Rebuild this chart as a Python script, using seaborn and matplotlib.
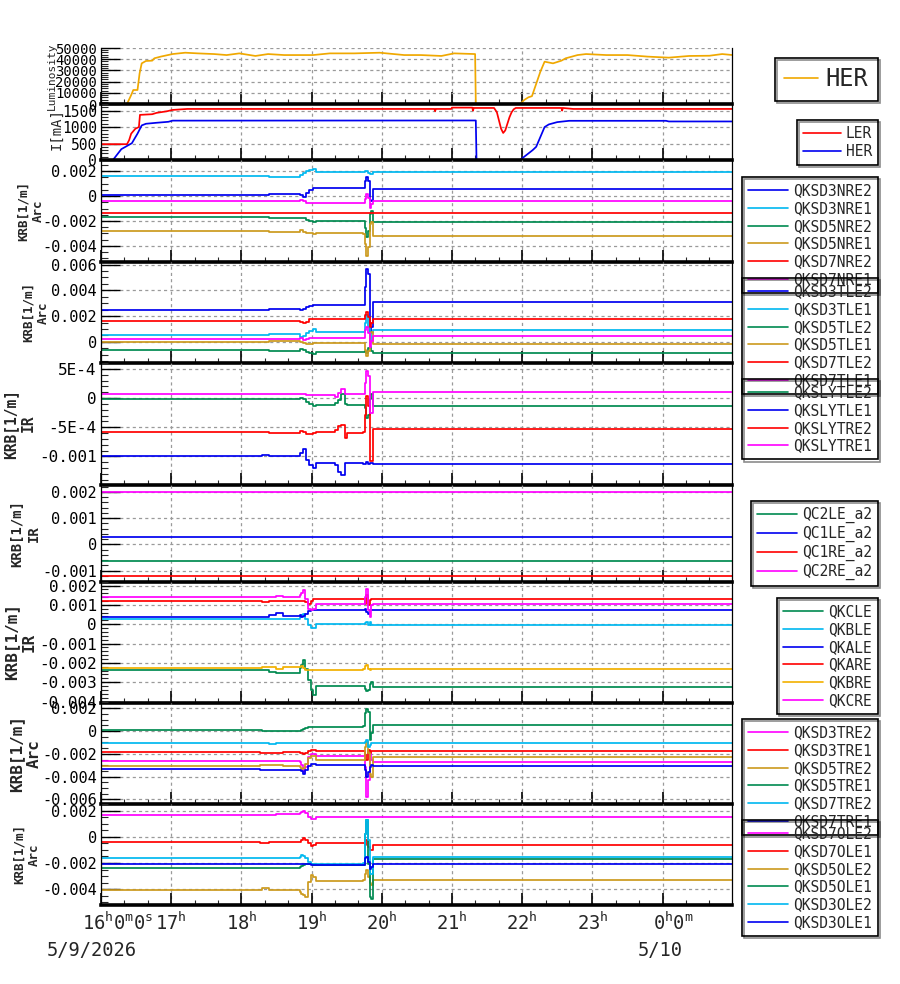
import numpy as np
import pandas as pd
import matplotlib
matplotlib.use('Agg')
import matplotlib.pyplot as plt
import matplotlib.dates as mdates
import matplotlib.patheffects as pe
from matplotlib.ticker import MultipleLocator, AutoMinorLocator, FuncFormatter
from matplotlib.transforms import ScaledTranslation
import seaborn as sns

sns.set_style('white')
plt.rcParams['font.family'] = ['DejaVu Sans Mono']
plt.rcParams['mathtext.fontset'] = 'custom'
plt.rcParams['mathtext.rm'] = 'DejaVu Sans Mono'
plt.rcParams['mathtext.default'] = 'rm'

start = pd.Timestamp('2026-05-09 16:00')
end_h = 8.99

# ---- beam (times in hours after 16:00) ----
lum_t = [0, 0.37, 0.43, 0.46, 0.52, 0.55, 0.58, 0.64, 0.73, 0.76,
         0.85, 1.02, 1.20, 1.38, 1.61, 1.79, 1.97, 2.20, 2.38, 2.61,
         3.02, 3.26, 3.61, 3.97, 4.32, 4.56, 4.85, 5.03, 5.33, 5.34,
         5.97, 6.03, 6.09, 6.14, 6.17, 6.26, 6.32, 6.44, 6.56, 6.62,
         6.79, 6.91, 7.20, 7.50, 7.79, 8.09, 8.38, 8.67, 8.85, 9.0]
lum_her = [0, 0, 8000, 12500, 12500, 27400, 36300, 38400, 38700, 40800,
           42300, 44600, 45800, 45200, 44600, 43700, 45200, 42900, 44600, 43700,
           43700, 45200, 45200, 45800, 43700, 43700, 42900, 45200, 44600, 0,
           0, 3600, 6000, 7000, 12500, 28900, 37800, 36300, 38700, 40800,
           43700, 44600, 43700, 43700, 42300, 41400, 42900, 43100, 44600, 43700]

ler_t = [0, 0.37, 0.40, 0.43, 0.49, 0.54, 0.555, 0.73, 0.79, 0.94, 1.02, 1.23,
         4.75, 4.76, 4.77, 4.99, 5.00, 5.29, 5.30, 5.31, 5.60,
         5.64, 5.67, 5.70, 5.73, 5.76, 5.79, 5.82, 5.85, 5.88, 5.91,
         6.56, 6.57, 6.58, 6.73, 9.0]
ler_ma = [480, 480, 600, 800, 950, 1000, 1370, 1390, 1430, 1480, 1520, 1550,
          1550, 1480, 1550, 1550, 1590, 1590, 1500, 1580, 1580,
          1450, 1200, 950, 820, 900, 1100, 1300, 1450, 1540, 1580,
          1580, 1500, 1580, 1550, 1550]

her_t = [0, 0.17, 0.29, 0.44, 0.52, 0.58, 0.64, 0.79, 0.96, 1.02, 5.34, 5.35,
         5.97, 6.03, 6.15, 6.20, 6.26, 6.32, 6.38, 6.50, 6.67, 8.05, 8.09, 9.0]
her_ma = [0, 0, 330, 510, 800, 1050, 1100, 1130, 1160, 1195, 1200, 0,
          0, 100, 300, 400, 700, 1000, 1080, 1150, 1190, 1190, 1170, 1170]

# ---- magnet strengths, step data (times in hours after 16:00) ----
knots_arc = [0, 2.40, 2.83, 2.88, 2.92, 2.97, 3.02, 3.07, 3.73, 3.76, 3.78, 3.80, 3.83, 3.85, 3.88]

arc_nre = {  # 1e-3 /m
    'QKSD3NRE2': [0.05, 0.13, 0.05, -0.08, 0.27, 0.45, 0.61, 0.67, 0.67, 1.20, 1.52, 1.20, -0.35, -0.40, 0.53],
    'QKSD3NRE1': [1.60, 1.57, 1.73, 1.87, 2.00, 2.13, 2.21, 1.95, 1.95, 2.05, 2.05, 1.87, 1.79, 1.79, 1.97],
    'QKSD5NRE2': [-1.71, -1.79, -1.73, -1.79, -1.95, -2.00, -2.05, -2.00, -2.00, -2.53, -3.33, -2.80, -1.47, -1.20, -2.08],
    'QKSD5NRE1': [-2.83, -2.88, -2.75, -2.85, -2.96, -2.99, -3.01, -2.96, -3.01, -3.87, -4.80, -4.13, -2.27, -2.08, -3.23],
    'QKSD7NRE2': [-1.39] * 15,
    'QKSD7NRE1': [-0.43, -0.43, -0.35, -0.40, -0.53, -0.56, -0.59, -0.59, -0.59, -0.27, 0.13, -0.13, -0.93, -0.67, -0.43],
}

arc_tle = {  # 1e-3 /m
    'QKSD3TLE2': [2.51, 2.56, 2.51, 2.56, 2.72, 2.79, 2.87, 2.90, 2.90, 4.26, 5.67, 5.28, 0.67, 1.18, 3.13],
    'QKSD3TLE1': [0.51, 0.62, 0.41, 0.46, 0.67, 0.87, 0.97, 0.79, 0.79, 1.44, 2.08, 1.18, 0.03, 0.67, 0.95],
    'QKSD5TLE2': [-0.64, -0.69, -0.54, -0.62, -0.77, -0.87, -0.92, -0.82, -0.82, -0.74, -0.87, -0.49, -0.36, -0.74, -0.87],
    'QKSD5TLE1': [0.00, 0.03, 0.00, -0.05, -0.15, -0.15, -0.10, -0.05, -0.05, -0.62, -1.13, -0.74, 0.67, 0.79, -0.18],
    'QKSD7TLE2': [1.59, 1.59, 1.54, 1.44, 1.56, 1.74, 1.77, 1.74, 1.74, 2.08, 2.33, 1.95, 1.18, 1.44, 1.79],
    'QKSD7TLE1': [0.21, 0.23, 0.28, 0.15, 0.23, 0.28, 0.31, 0.28, 0.28, 0.92, 1.18, 0.67, -0.36, 0.03, 0.46],
}

knots_ly = [0, 2.30, 2.40, 2.83, 2.88, 2.92, 2.97, 3.02, 3.07, 3.33, 3.38, 3.42, 3.47, 3.50,
            3.73, 3.76, 3.78, 3.80, 3.83, 3.85, 3.88]

ir_ly = {  # 1e-4 /m
    'QKSLYTLE2': [-0.11, -0.11, -0.11, 0.06, -0.11, -0.69, -1.09, -1.38, -1.15, -0.80, -0.34, 0.63, -1.09, -1.15,
                  -1.15, -1.67, -3.39, -2.82, -0.23, 0.63, -1.38],
    'QKSLYTLE1': [-9.89, -9.71, -9.89, -9.43, -8.74, -10.57, -11.44, -12.01, -11.15, -11.44, -12.59, -13.16, -11.15, -11.15,
                  -11.26, -11.26, -11.03, -11.26, -11.15, -11.15, -11.26],
    'QKSLYTRE2': [-5.80, -5.80, -5.98, -5.69, -5.86, -6.09, -6.09, -5.98, -5.86, -5.40, -4.83, -4.54, -6.84, -5.98,
                  -5.86, -2.82, 0.34, -1.38, -10.86, -10.86, -5.29],
    'QKSLYTRE1': [0.75, 0.75, 0.75, 0.75, 0.63, 0.46, 0.46, 0.46, 0.46, 0.23, 0.92, 1.49, 0.63, 0.63,
                  0.63, 2.64, 4.66, 3.79, -2.53, -2.53, 1.09],
}

knots_qc = [0]
ir_qc = {  # 1e-3 /m
    'QC2LE_a2': [-0.64],
    'QC1LE_a2': [0.27],
    'QC1RE_a2': [-1.19],
    'QC2RE_a2': [2.00],
}

knots_k = [0, 2.26, 2.30, 2.40, 2.50, 2.59, 2.83, 2.85, 2.88, 2.90, 2.95, 2.99, 3.02, 3.07,
           3.73, 3.76, 3.78, 3.80, 3.83, 3.85, 3.88]

ir_qk = {  # 1e-3 /m
    'QKCLE': [-2.35, -2.35, -2.38, -2.47, -2.52, -2.52, -2.25, -2.12, -1.87, -2.30, -2.90, -3.42, -3.68, -3.21,
              -3.21, -3.33, -3.45, -3.42, -3.07, -2.99, -3.25],
    'QKBLE': [0.29, 0.29, 0.29, 0.29, 0.29, 0.29, 0.35, 0.47, 0.55, 0.29, -0.05, -0.19, -0.19, 0.03,
              0.03, 0.07, 0.12, -0.05, 0.09, -0.02, -0.02],
    'QKALE': [0.38, 0.38, 0.35, 0.47, 0.59, 0.41, 0.47, 0.38, 0.41, 0.55, 0.69, 0.76, 0.76, 0.76,
              0.73, 0.81, 0.64, 0.55, 0.73, 0.76, 0.76],
    'QKARE': [1.21, 1.21, 1.16, 1.21, 1.21, 1.21, 1.21, 1.21, 1.19, 1.16, 1.07, 1.21, 1.33, 1.33,
              1.33, 1.07, 1.50, 0.98, 1.24, 1.33, 1.33],
    'QKBRE': [-2.26, -2.26, -2.21, -2.21, -2.30, -2.21, -2.21, -2.18, -2.25, -2.35, -2.38, -2.38, -2.35, -2.35,
              -2.30, -2.18, -2.12, -2.30, -2.38, -2.30, -2.30],
    'QKCRE': [1.42, 1.42, 1.42, 1.42, 1.47, 1.42, 1.50, 1.62, 1.76, 1.33, 0.81, 0.73, 0.81, 1.04,
              1.04, 1.42, 1.80, 0.73, 0.38, 0.98, 1.04],
}

arc_tre = {  # 1e-3 /m
    'QKSD3TRE2': [-2.64, -2.64, -2.64, -2.64, -2.64, -2.64, -2.70, -3.00, -3.58, -3.14, -2.26, -2.03, -2.03, -2.17,
                  -2.17, -3.14, -5.79, -4.32, -1.97, -2.56, -2.70],
    'QKSD3TRE1': [-1.88, -1.97, -1.97, -1.91, -1.91, -1.88, -1.91, -1.97, -2.03, -1.91, -1.73, -1.67, -1.67, -1.73,
                  -1.73, -2.11, -2.56, -1.67, -1.97, -1.79, -1.79],
    'QKSD5TRE2': [-3.08, -3.00, -3.00, -3.02, -3.02, -3.08, -3.14, -3.29, -3.20, -2.85, -2.41, -2.17, -2.17, -2.56,
                  -2.56, -1.38, -0.94, -1.97, -3.73, -4.02, -2.32],
    'QKSD5TRE1': [0.09, 0.09, 0.03, 0.03, 0.03, 0.03, 0.03, 0.09, 0.15, 0.23, 0.32, 0.38, 0.38, 0.38,
                  0.44, 1.56, 1.91, 1.70, -0.79, -0.21, 0.50],
    'QKSD7TRE2': [-1.09, -1.09, -1.09, -1.17, -1.09, -1.09, -1.09, -1.09, -1.09, -1.09, -1.09, -1.09, -1.09, -1.09,
                  -1.09, -0.94, -0.79, -1.38, -1.23, -1.09, -1.09],
    'QKSD7TRE1': [-3.35, -3.38, -3.38, -3.38, -3.38, -3.38, -3.38, -3.49, -3.73, -3.44, -3.08, -2.85, -2.85, -3.00,
                  -3.00, -3.44, -4.02, -3.58, -3.14, -3.00, -3.11],
}

arc_ole = {  # 1e-3 /m
    'QKSD7OLE2': [1.65, 1.65, 1.65, 1.65, 1.70, 1.70, 1.78, 1.86, 1.96, 1.78, 1.53, 1.37, 1.32, 1.48,
                  1.48, 1.48, 1.48, 1.48, 1.48, 1.48, 1.48],
    'QKSD7OLE1': [-0.36, -0.46, -0.46, -0.36, -0.36, -0.36, -0.36, -0.25, -0.13, -0.25, -0.51, -0.69, -0.64, -0.51,
                  -0.51, -0.64, -0.25, -0.76, -0.97, -0.97, -0.59],
    'QKSD5OLE2': [-4.02, -4.02, -3.94, -4.02, -4.07, -4.07, -4.20, -4.33, -4.45, -4.58, -3.44, -2.93, -3.05, -3.38,
                  -3.31, -2.80, -2.54, -3.05, -3.56, -3.69, -3.26],
    'QKSD5OLE1': [-2.37, -2.37, -2.37, -2.37, -2.37, -2.37, -2.29, -2.24, -2.16, -2.09, -2.04, -2.09, -2.16, -2.16,
                  -2.16, 0.25, 1.27, -2.04, -4.58, -4.71, -1.73],
    'QKSD3OLE2': [-1.58, -1.58, -1.58, -1.58, -1.58, -1.58, -1.53, -1.42, -1.48, -1.65, -1.91, -2.09, -2.04, -2.04,
                  -1.98, 0.25, 1.27, -0.25, -2.80, -2.80, -1.53],
    'QKSD3OLE1': [-2.09, -2.09, -2.09, -2.09, -2.09, -2.09, -2.09, -2.09, -2.04, -2.04, -2.09, -2.16, -2.16, -2.16,
                  -2.16, -1.65, -1.53, -1.91, -2.42, -2.29, -2.04],
}

BLUE, SKY, GREEN, GOLD = '#0000f0', '#00b8f0', '#008a50', '#cc9a1e'
RED, MAG, ORANGE = '#ff0000', '#ff00ff', '#f2b000'


def line_frame(t, v, name):
    return pd.DataFrame({'time': start + pd.to_timedelta(np.array(t, float), unit='h'),
                         'value': v, 'name': name})


def step_frame(knots, series, scale):
    parts = []
    for name, vals in series.items():
        t = list(knots) + [end_h]
        v = np.array(list(vals) + [vals[-1]]) * scale
        parts.append(line_frame(t, v, name))
    return pd.concat(parts, ignore_index=True)


def k_fmt(v, pos):
    if abs(v) < 1e-12:
        return '0'
    if abs(v) < 1e-3 - 1e-12:
        e = int(np.floor(np.log10(abs(v)) + 1e-9))
        return f'{v / 10 ** e:g}E{e}'
    return f'{v:g}'


def hour_label(x, pos):
    d = mdates.num2date(x)
    if d.hour == 0:
        return r'$0^{h}0^{m}$'
    if pos == 0:
        return r'$%d^{h}0^{m}0^{s}$' % d.hour
    return r'$%d^{h}$' % d.hour


panels = [
    dict(top=48, bot=104, df=line_frame(lum_t, lum_her, 'HER'), order=['HER'],
         colors={'HER': '#f0a800'}, steps=False, ylim=(0, 50000), step=10000,
         label='Luminosity', lfs=8, bold='normal', lx=57, ly=76, tfs=10, legfs=17, legtop=58, hl=1.4),
    dict(top=104, bot=160, df=pd.concat([line_frame(ler_t, ler_ma, 'LER'), line_frame(her_t, her_ma, 'HER')]),
         order=['LER', 'HER'], colors={'LER': RED, 'HER': BLUE}, steps=False, ylim=(0, 1700), step=500,
         label='I[mA]', lfs=10, bold='normal', lx=63, ly=129, tfs=10.5, legfs=10.5, legtop=120, hl=2.6),
    dict(top=160, bot=262, df=step_frame(knots_arc, arc_nre, 1e-3), order=list(arc_nre),
         colors=dict(zip(arc_nre, [BLUE, SKY, GREEN, GOLD, RED, MAG])), steps=True,
         ylim=(-0.0053, 0.0029), step=0.002, label='KRB[1/m]\nArc', lfs=9, bold='bold', lx=45, tfs=11, legtop=177),
    dict(top=262, bot=362.5, df=step_frame(knots_arc, arc_tle, 1e-3), order=list(arc_tle),
         colors=dict(zip(arc_tle, [BLUE, SKY, GREEN, GOLD, RED, MAG])), steps=True,
         ylim=(-0.0016, 0.0062), step=0.002, label='KRB[1/m]\nArc', lfs=9, bold='bold', lx=50, tfs=11, legtop=278),
    dict(top=362.5, bot=485, df=step_frame(knots_ly, ir_ly, 1e-4), order=list(ir_ly),
         colors=dict(zip(ir_ly, [GREEN, BLUE, RED, MAG])), steps=True,
         ylim=(-0.00149, 0.00061), step=5e-4, label='KRB[1/m]\nIR', lfs=10.5, bold='bold', lx=36, tfs=11.5, legtop=379),
    dict(top=485, bot=581.5, df=step_frame(knots_qc, ir_qc, 1e-3), order=list(ir_qc),
         colors=dict(zip(ir_qc, [GREEN, BLUE, RED, MAG])), steps=True,
         ylim=(-0.00141, 0.00226), step=0.001, label='KRB[1/m]\nIR', lfs=10, bold='bold', lx=41, tfs=11, legtop=501),
    dict(top=581.5, bot=702.5, df=step_frame(knots_k, ir_qk, 1e-3), order=list(ir_qk),
         colors=dict(zip(ir_qk, [GREEN, SKY, BLUE, RED, ORANGE, MAG])), steps=True,
         ylim=(-0.00405, 0.00221), step=0.001, label='KRB[1/m]\nIR', lfs=11.5, bold='bold', lx=37, tfs=11.5, legtop=598),
    dict(top=702.5, bot=804, df=step_frame(knots_k, arc_tre, 1e-3), order=list(arc_tre),
         colors=dict(zip(arc_tre, [MAG, RED, GOLD, GREEN, SKY, BLUE])), steps=True,
         ylim=(-0.0064, 0.0025), step=0.002, label='KRB[1/m]\nArc', lfs=11.5, bold='bold', lx=42, tfs=11, legtop=719),
    dict(top=804, bot=905, df=step_frame(knots_k, arc_ole, 1e-3), order=list(arc_ole),
         colors=dict(zip(arc_ole, [MAG, RED, GOLD, GREEN, SKY, BLUE])), steps=True,
         ylim=(-0.0052, 0.0025), step=0.002, label='KRB[1/m]\nArc', lfs=9, bold='bold', lx=41, tfs=11, legtop=820),
]

W, H = 900, 984
fig = plt.figure(figsize=(W / 100, H / 100), dpi=100)
x0, x1 = 101, 732

axes = []
for i, p in enumerate(panels):
    ax = fig.add_axes([x0 / W, 1 - p['bot'] / H, (x1 - x0) / W, (p['bot'] - p['top']) / H])
    axes.append(ax)
    sns.lineplot(data=p['df'], x='time', y='value', hue='name', hue_order=p['order'],
                 palette=p['colors'], estimator=None, sort=False,
                 drawstyle='steps-post' if p['steps'] else 'default',
                 linewidth=1.25, ax=ax)

    ax.set_xlim(start, start + pd.Timedelta(hours=end_h))
    ax.set_ylim(*p['ylim'])
    ax.set_xlabel('')
    ax.set_ylabel(p['label'], fontsize=p['lfs'], fontweight=p['bold'], linespacing=1.25)
    ly = p.get('ly', (p['top'] + p['bot']) / 2)
    ax.yaxis.set_label_coords(p['lx'] / W, 1 - ly / H, transform=fig.transFigure)

    ax.xaxis.set_major_locator(mdates.HourLocator())
    ax.xaxis.set_minor_locator(mdates.MinuteLocator(byminute=[20, 40]))
    ax.xaxis.set_major_formatter(FuncFormatter(hour_label))
    ax.yaxis.set_major_locator(MultipleLocator(p['step']))
    ax.yaxis.set_minor_locator(AutoMinorLocator())
    ax.yaxis.set_major_formatter(FuncFormatter(k_fmt))

    last = i == len(panels) - 1
    ax.tick_params(axis='y', which='major', direction='in', length=14, width=1, labelsize=p['tfs'],
                   pad=3, left=True, right=False, color='black', labelcolor='black')
    ax.tick_params(axis='y', which='minor', direction='in', length=5, width=0.8, left=True, right=False)
    ax.tick_params(axis='x', which='major', direction='in', length=8.5, width=1.2, bottom=True, top=False,
                   labelbottom=last, labelsize=13.5, pad=5, color='black')
    ax.tick_params(axis='x', which='minor', direction='in', length=3.5, width=0.8, bottom=True, top=False)

    ax.grid(True, which='major', color='#9a9a9a', linestyle=(0, (2.5, 2.5)), linewidth=0.9)
    ax.spines['top'].set_visible(False)
    ax.spines['bottom'].set_linewidth(2.6)
    for s in ['left', 'right', 'bottom']:
        ax.spines[s].set_color('black')
    ax.spines['left'].set_linewidth(0.9)
    ax.spines['right'].set_linewidth(0.9)
    ax.patch.set_alpha(0)

    sns.move_legend(ax, 'upper right', bbox_to_anchor=(878 / W, 1 - p['legtop'] / H),
                    bbox_transform=fig.transFigure, title=None, frameon=True,
                    fontsize=p.get('legfs', 10.5), facecolor='none', edgecolor='black', framealpha=1,
                    fancybox=False, shadow=False, borderpad=0.4, labelspacing=0.2,
                    handlelength=p.get('hl', 2.75), handletextpad=0.35, borderaxespad=0)
    leg = ax.get_legend()
    leg.get_frame().set_linewidth(1.2)
    leg.get_frame().set_path_effects([pe.SimpleLineShadow(offset=(1.5, -1.5), shadow_color='black', alpha=0.45),
                                      pe.Normal()])
    for h in leg.legend_handles:
        h.set_linewidth(1.2)

fig.text(92 / W, 1 - 950 / H, '5/9/2026', ha='center', va='center', fontsize=13.5)
fig.text(660 / W, 1 - 950 / H, '5/10', ha='center', va='center', fontsize=13.5)

# the first and the midnight labels sit a little to the right of their ticks
fig.canvas.draw()
shifts = {mdates.date2num(start): 0.17, mdates.date2num(start + pd.Timedelta(hours=8)): 0.11}
for tick in axes[-1].xaxis.get_major_ticks():
    for loc, dx in shifts.items():
        if abs(tick.get_loc() - loc) < 1e-6:
            tick.label1.set_transform(tick.label1.get_transform() + ScaledTranslation(dx, 0, fig.dpi_scale_trans))

fig.savefig('out.png', dpi=100)
